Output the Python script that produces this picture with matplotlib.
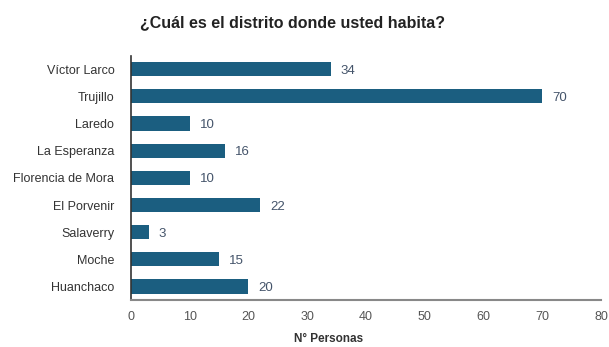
import matplotlib.pyplot as plt
from matplotlib import font_manager

distritos = ['Víctor Larco', 'Trujillo', 'Laredo', 'La Esperanza', 'Florencia de Mora',
             'El Porvenir', 'Salaverry', 'Moche', 'Huanchaco']
personas = [34, 70, 10, 16, 10, 22, 3, 15, 20]
xticks = [0, 10, 20, 30, 40, 50, 60, 70, 80]

names = {f.name for f in font_manager.fontManager.ttflist}
fam = 'Liberation Sans Narrow' if 'Liberation Sans Narrow' in names else 'Liberation Sans'
plt.rcParams['font.family'] = [fam, 'DejaVu Sans']

fig = plt.figure(figsize=(6.09, 3.47), dpi=100)
ax = fig.add_axes([0.215, 0.135, 0.772, 0.705])

y = list(range(len(distritos)))
ax.barh(y, personas, height=0.52, color='#1b5e80')
for yi, v in zip(y, personas):
    ax.text(v + 1.7, yi, str(v), va='center_baseline', ha='left', fontsize=9.5, color='#44546a')

ax.set_yticks(y)
ax.set_yticklabels(distritos, fontsize=9, color='#333333')
ax.set_ylim(len(distritos) - 0.5, -0.5)
ax.set_xlim(0, 80)
ax.set_xticks(xticks)
ax.set_xticklabels([str(t) for t in xticks], fontsize=9, color='#555555')
ax.tick_params(length=0, pad=8)
ax.tick_params(axis='y', pad=12)

for s in ['top', 'right']:
    ax.spines[s].set_visible(False)
ax.spines['left'].set_color('#333333')
ax.spines['left'].set_linewidth(1.2)
ax.spines['bottom'].set_color('#888888')
ax.spines['bottom'].set_linewidth(1.5)

fig.text(0.48, 0.935, '¿Cuál es el distrito donde usted habita?', ha='center', va='center',
         fontsize=11.5, fontweight='bold', color='#222222')
fig.text(0.54, 0.022, 'N° Personas', ha='center', va='center', fontsize=8.5,
         fontweight='bold', color='#333333')

fig.savefig('out.png', dpi=100)
